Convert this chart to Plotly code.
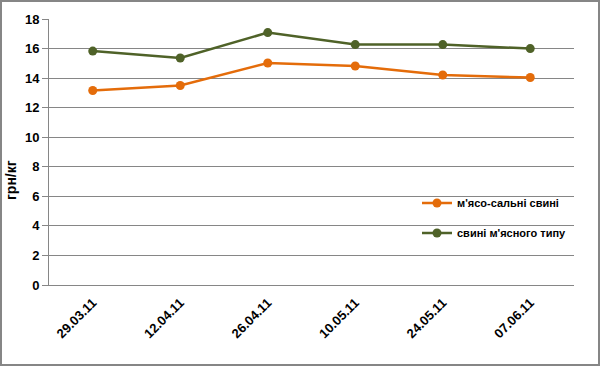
import plotly.graph_objects as go

dates = ["29.03.11", "12.04.11", "26.04.11", "10.05.11", "24.05.11", "07.06.11"]
meat_fat = [13.16, 13.50, 15.02, 14.82, 14.21, 14.04]
meat_type = [15.83, 15.36, 17.08, 16.27, 16.27, 16.00]
y_ticks = [0, 2, 4, 6, 8, 10, 12, 14, 16, 18]

W, H = 600, 366
ml, mr, mt, mb = 49, 26, 19, 81
pw, ph = W - ml - mr, H - mt - mb

orange = "#E46C0A"
green = "#4F6228"
font = "Liberation Sans"

fig = go.Figure()
fig.add_trace(go.Scatter(x=dates, y=meat_fat, mode="lines+markers", name="м'ясо-сальні свині",
                         line=dict(color=orange, width=2.5), marker=dict(color=orange, size=9),
                         legend="legend"))
fig.add_trace(go.Scatter(x=dates, y=meat_type, mode="lines+markers", name="свині м'ясного типу",
                         line=dict(color=green, width=2.5), marker=dict(color=green, size=9),
                         legend="legend2"))

def px_x(p):
    return (p - ml) / pw

def px_y(p):
    return (H - mb - p) / ph

legend_common = dict(font=dict(family=font, size=11, color="#000000", weight="bold"),
                     bgcolor="rgba(0,0,0,0)", xanchor="left", yanchor="middle", itemwidth=30)

fig.update_layout(
    width=W, height=H,
    margin=dict(l=ml, r=mr, t=mt, b=mb, autoexpand=False),
    paper_bgcolor="white", plot_bgcolor="white",
    font=dict(family=font, color="#000000"),
    showlegend=True,
    legend=dict(x=px_x(417), y=px_y(203), **legend_common),
    legend2=dict(x=px_x(417), y=px_y(233), **legend_common),
    xaxis=dict(type="category", range=[-0.5, 5.5], tickangle=-45, automargin=False,
               tickfont=dict(family=font, size=13, color="#000000", weight="bold"),
               ticklabelstandoff=4,
               showline=True, linecolor="#868686", linewidth=1, showgrid=False,
               ticks="", zeroline=False),
    yaxis=dict(range=[0, 18], tickvals=y_ticks, ticks="outside", ticklen=6, tickcolor="#868686",
               automargin=False,
               tickfont=dict(family=font, size=13, color="#000000", weight="bold"),
               showline=True, linecolor="#868686", linewidth=1,
               showgrid=True, gridcolor="#868686", gridwidth=1, zeroline=False),
    annotations=[dict(text="грн/кг", xref="paper", yref="paper", x=px_x(11), y=px_y(180),
                      xanchor="center", yanchor="middle", textangle=-90, showarrow=False,
                      font=dict(family=font, size=14, color="#000000", weight="bold"))],
    shapes=[dict(type="rect", xref="paper", yref="paper",
                 x0=px_x(1), x1=px_x(W - 1), y0=px_y(H - 1), y1=px_y(1),
                 line=dict(color="#868686", width=2), fillcolor="rgba(0,0,0,0)", layer="above")],
)

fig.write_html("out.html", config={"displayModeBar": False},
               post_script="document.body.style.margin='0';document.body.style.overflow='hidden';")
